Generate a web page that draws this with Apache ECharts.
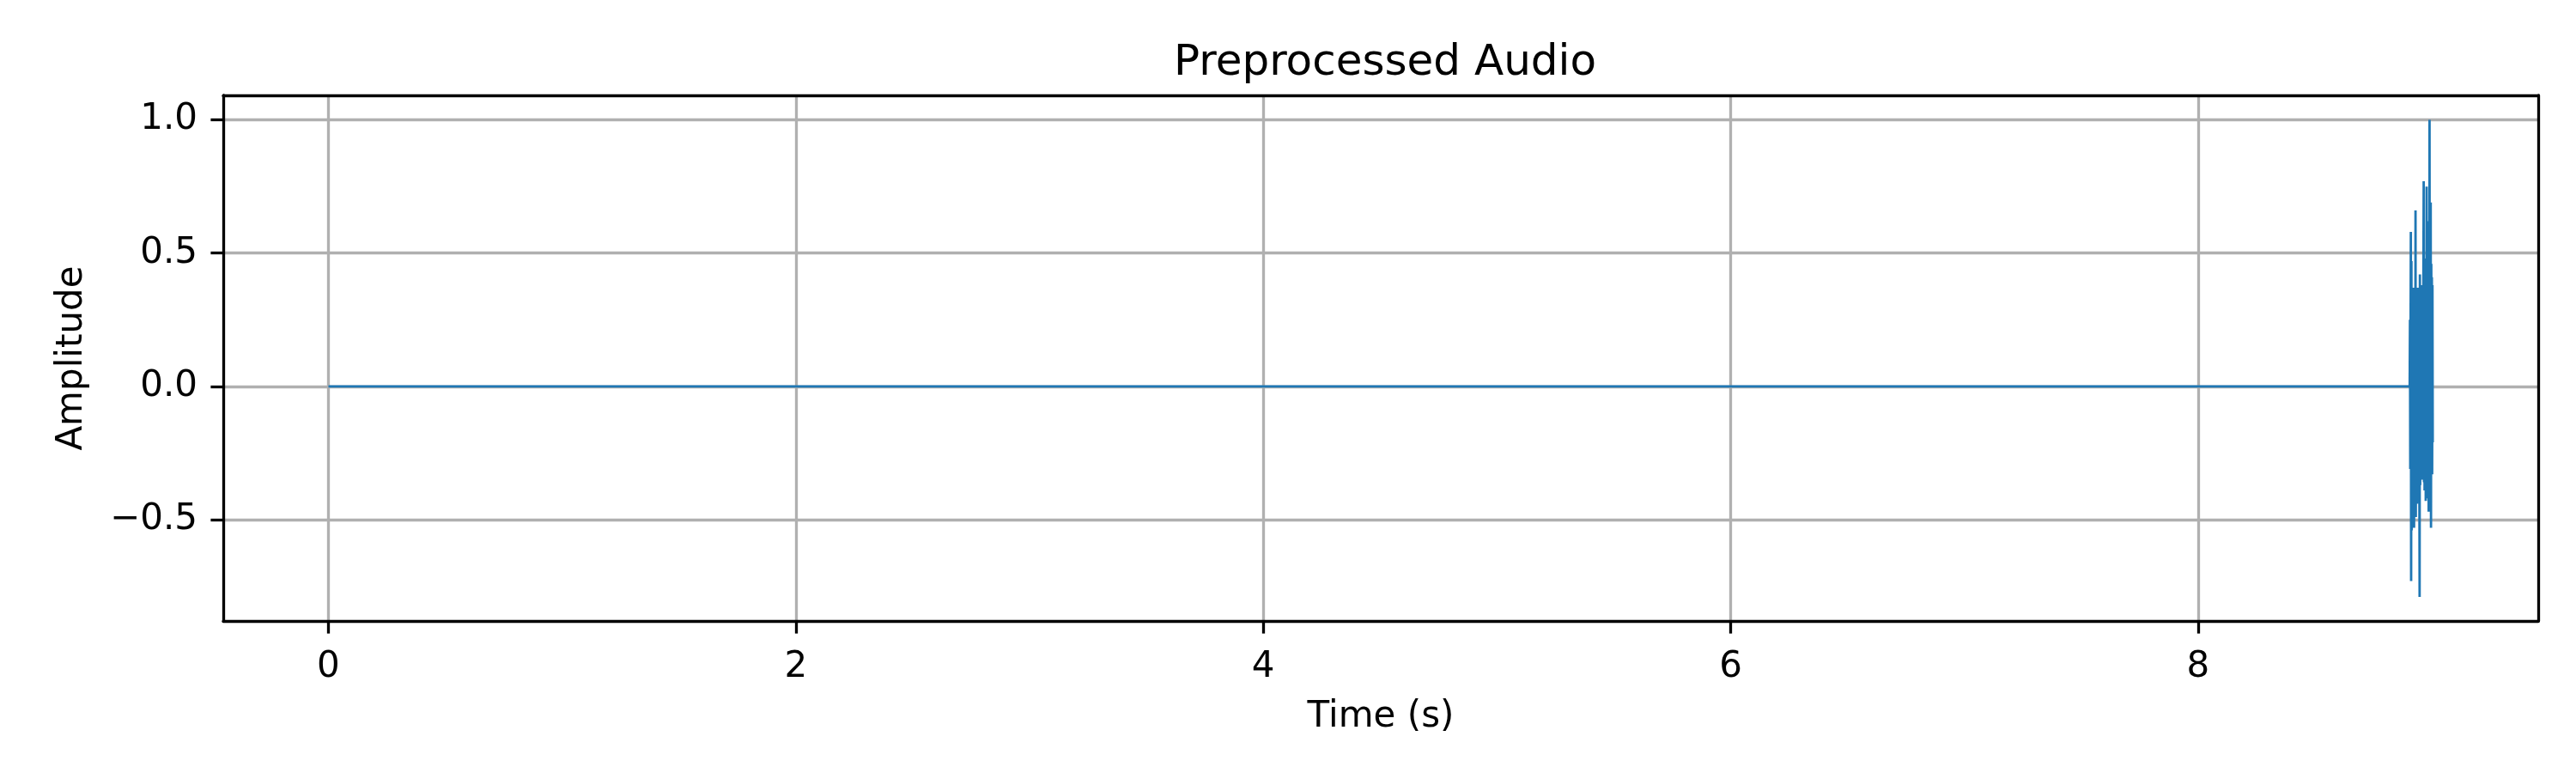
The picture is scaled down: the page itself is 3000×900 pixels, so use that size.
<!DOCTYPE html>
<html>
<head>
<meta charset="utf-8">
<title>Preprocessed Audio</title>
<script src="https://cdn.jsdelivr.net/npm/echarts@6/dist/echarts.min.js"></script>
<style>
  html, body { margin: 0; padding: 0; background: #fff; }
  #main { width: 3000px; height: 900px; }
</style>
</head>
<body>
<div id="main"></div>
<script>
// silent part of the clip: just two samples, start and end of the flat line
var flatTimes = [0, 8.905];
var flatAmps = [0, 0];

// the short burst at the end
var burstStart = 8.905;
var sampleStep = 0.00125;
var burstAmps = [
  0.00, 0.25, -0.31, 0.18, 0.58, -0.73, 0.47, -0.54, 0.36, -0.42,
  0.30, -0.51, 0.37, -0.33, 0.22, -0.53, 0.34, -0.45, 0.28, -0.38,
  0.66, -0.49, 0.31, -0.27, 0.36, -0.44, 0.19, -0.36, 0.37, -0.30,
  0.25, -0.41, 0.33, -0.28, -0.79, 0.42, -0.37, 0.29, -0.33, 0.38,
  -0.25, 0.31, -0.35, 0.27, -0.32, 0.36, -0.29, 0.45, 0.77, -0.36,
  0.40, -0.39, 0.33, -0.27, 0.48, -0.43, 0.35, -0.31, 0.75, -0.38,
  0.62, -0.42, 0.44, -0.35, 0.51, -0.47, 0.39, -0.44, 1.00, -0.36,
  0.58, -0.41, 0.69, -0.53, 0.46, -0.28, 0.41, -0.33, 0.38, -0.21
];

var xTicks = [0, 2, 4, 6, 8];
var yTicks = [-0.5, 0, 0.5, 1.0];

var FONT = "DejaVu Sans";

// build [t, amp] pairs
var audio = [];
for (var i = 0; i < flatTimes.length; i++) {
  audio.push([flatTimes[i], flatAmps[i]]);
}
for (var j = 1; j < burstAmps.length; j++) {
  audio.push([+(burstStart + j * sampleStep).toFixed(5), burstAmps[j]]);
}

var xMin = -0.45, xMax = 9.455;
var yMin = -0.88, yMax = 1.092;

var myChart = echarts.init(document.getElementById("main"), null, { renderer: "canvas" });

var option = {
  backgroundColor: "#fff",
  animation: false,
  title: {
    text: "Preprocessed Audio",
    left: 1608,
    top: 44,
    textAlign: "center",
    textStyle: { fontFamily: FONT, fontSize: 50, fontWeight: "normal", color: "#000" }
  },
  grid: {
    left: 260,
    right: 44,
    top: 111,
    bottom: 177,
    outerBoundsMode: "none"
  },
  xAxis: [
    {
      type: "value",
      min: xMin,
      max: xMax,
      name: "Time (s)",
      nameLocation: "middle",
      nameGap: 91,
      nameMoveOverlap: false,
      nameTextStyle: { fontFamily: FONT, fontSize: 42, color: "#000" },
      axisLine: { show: true, onZero: false, lineStyle: { color: "#000", width: 3.3 } },
      axisTick: { show: true, inside: false, length: 14.6, customValues: xTicks,
        lineStyle: { color: "#000", width: 3.3 } },
      axisLabel: {
        customValues: xTicks,
        margin: 33,
        fontFamily: FONT,
        fontSize: 42,
        color: "#000",
        formatter: function(v) { return String(v); }
      },
      splitLine: { show: true, lineStyle: { color: "#b0b0b0", width: 3.3 } }
    },
    {
      // top spine
      type: "value",
      position: "top",
      min: xMin,
      max: xMax,
      axisLine: { show: true, onZero: false, lineStyle: { color: "#000", width: 3.3 } },
      axisTick: { show: false },
      axisLabel: { show: false },
      splitLine: { show: false }
    }
  ],
  yAxis: [
    {
      type: "value",
      min: yMin,
      max: yMax,
      name: "Amplitude",
      nameLocation: "middle",
      nameGap: 155,
      nameMoveOverlap: false,
      nameTextStyle: { fontFamily: FONT, fontSize: 42, color: "#000" },
      axisLine: { show: true, onZero: false, lineStyle: { color: "#000", width: 3.3 } },
      axisTick: { show: true, inside: false, length: 14.6, customValues: yTicks,
        lineStyle: { color: "#000", width: 3.3 } },
      axisLabel: {
        customValues: yTicks,
        margin: 30,
        fontFamily: FONT,
        fontSize: 42,
        color: "#000",
        formatter: function(v) {
          var s = Math.abs(v).toFixed(1);
          return v < 0 ? "\u2212" + s : s;
        }
      },
      splitLine: { show: true, lineStyle: { color: "#b0b0b0", width: 3.3 } }
    },
    {
      // right spine
      type: "value",
      position: "right",
      min: yMin,
      max: yMax,
      axisLine: { show: true, onZero: false, lineStyle: { color: "#000", width: 3.3 } },
      axisTick: { show: false },
      axisLabel: { show: false },
      splitLine: { show: false }
    }
  ],
  series: [
    {
      name: "audio",
      type: "line",
      xAxisIndex: 0,
      yAxisIndex: 0,
      data: audio,
      showSymbol: false,
      symbol: "none",
      sampling: null,
      lineStyle: { color: "#1f77b4", width: 2.8 },
      z: 3
    }
  ]
};

myChart.setOption(option);
</script>
</body>
</html>
